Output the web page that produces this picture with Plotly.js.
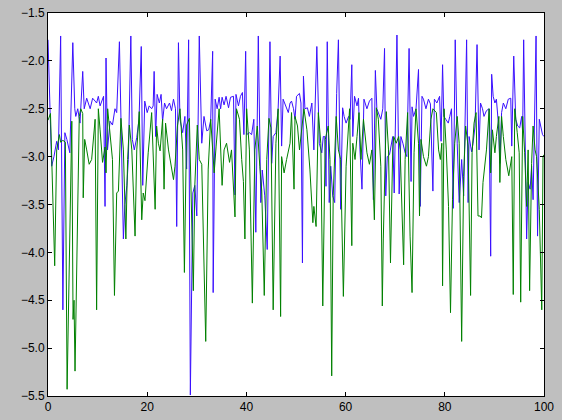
<!DOCTYPE html>
<html>
<head>
<meta charset="utf-8">
<script src="https://cdn.plot.ly/plotly-3.0.1.min.js"></script>
<style>
html,body{margin:0;padding:0;background:#bfbfbf;}
#chart{width:562px;height:420px;}
</style>
</head>
<body>
<div id="chart"></div>
<script>
// Blue series (x, y)
const blueX = [0,0.74,1.2,1.75,2.1,2.55,3.0,3.4,3.8,4.4,5.0,5.4,5.6,6.0,6.45,7.0,7.3,7.8,8.5,9.0,9.5,9.8,10.15,10.5,11.2,11.5,11.7,12.0,12.5,13.0,13.5,13.85,14.4,14.85,15.2,15.5,15.9,16.2,16.7,17.0,17.4,17.9,18.35,18.8,19.1,19.5,20.0,20.4,20.9,21.2,21.4,21.7,22.0,22.45,22.8,23.1,23.5,23.9,24.5,24.9,25.3,25.7,25.95,26.3,26.6,27.15,27.6,27.95,28.35,28.7,29.2,29.6,30.0,30.5,31.0,31.45,32.0,32.4,32.8,33.2,33.3,33.7,34.1,34.5,34.8,35.1,35.5,35.9,36.4,36.8,37.4,37.7,37.9,38.4,38.8,39.2,39.5,39.85,40.05,40.6,41.05,41.5,41.9,42.4,42.9,43.2,43.7,44.2,44.75,45.1,45.4,45.95,46.4,46.8,47.1,47.4,48.0,48.45,48.8,49.1,49.5,49.8,50.1,50.7,51.0,51.3,51.5,51.8,52.3,52.7,53.2,53.6,54.2,54.7,55.2,55.5,55.8,56.05,56.3,56.7,57.0,57.4,57.8,58.2,58.55,59.0,59.4,59.7,60.1,60.6,60.9,61.25,61.45,61.8,62.3,62.6,62.9,63.3,63.7,64.3,64.8,65.3,65.6,66.0,66.3,66.8,67.1,67.5,67.85,68.1,68.4,68.85,69.3,69.5,69.8,70.0,70.35,70.8,71.15,71.55,72.0,72.35,72.8,73.2,73.4,73.7,74.2,74.7,75.05,75.4,75.7,76.2,76.7,77.1,77.6,77.9,78.4,78.95,79.25,79.55,79.8,80.2,80.7,81.0,81.35,81.7,82.1,82.5,82.9,83.4,83.8,84.4,84.7,84.9,85.4,85.7,86.1,86.5,86.9,87.2,87.6,87.9,88.4,88.9,89.25,89.45,89.75,90.1,90.4,90.8,91.1,91.45,91.8,92.3,92.8,93.3,93.5,93.9,94.3,94.7,95.1,95.5,95.7,95.9,96.2,96.5,96.8,97.2,97.5,97.8,98.4,98.7,99.05,99.4,99.7,100];
const blueY = [-1.78,-3.10,-3.0,-2.84,-2.93,-1.74,-4.6,-2.75,-2.82,-2.96,-1.81,-2.5,-2.58,-2.5,-2.65,-2.11,-2.5,-2.39,-2.5,-2.39,-2.42,-2.44,-2.37,-2.47,-2.37,-3.52,-1.97,-2.93,-2.63,-2.67,-2.5,-2.54,-1.8,-3.03,-3.86,-3.5,-3.3,-3.03,-1.74,-2.82,-2.93,-2.8,-2.61,-1.85,-3.3,-2.42,-2.54,-2.47,-2.5,-2.47,-2.11,-2.79,-2.35,-2.44,-2.35,-2.63,-2.44,-2.5,-2.44,-2.52,-2.4,-2.5,-3.73,-1.81,-2.61,-2.75,-2.58,-3.13,-1.78,-5.49,-3.38,-3.3,-3.62,-1.74,-2.86,-2.58,-2.73,-2.72,-2.62,-1.9,-4.42,-2.4,-2.5,-2.38,-2.5,-2.38,-2.46,-2.37,-2.49,-2.38,-2.37,-3.4,-2.35,-2.47,-2.37,-2.33,-2.77,-1.9,-2.77,-2.75,-2.77,-2.61,-3.79,-1.74,-3.48,-3.14,-3.41,-3.97,-1.8,-3.07,-2.79,-2.75,-2.5,-1.95,-2.89,-2.4,-2.47,-2.54,-2.44,-2.42,-2.5,-2.61,-2.37,-2.34,-2.44,-4.11,-2.16,-2.5,-2.49,-2.58,-2.44,-2.93,-1.85,-2.86,-2.96,-2.79,-2.79,-3.31,-1.8,-3.48,-3.1,-3.41,-3.48,-2.34,-1.78,-3.55,-2.49,-2.58,-2.65,-2.58,-2.61,-2.04,-2.79,-2.37,-2.47,-2.39,-2.93,-3.34,-2.4,-2.5,-2.42,-2.39,-3.45,-2.1,-2.5,-2.58,-2.61,-2.5,-1.87,-3.41,-3.0,-2.98,-2.82,-2.79,-3.38,-2.79,-1.73,-3.39,-2.79,-2.86,-2.96,-3.0,-1.87,-3.26,-2.48,-2.58,-2.5,-2.09,-3.52,-2.37,-2.4,-2.5,-2.4,-2.45,-3.36,-2.4,-2.44,-2.37,-2.84,-2.04,-2.58,-2.61,-2.65,-2.58,-2.5,-3.54,-1.78,-2.86,-3.48,-3.03,-3.41,-1.78,-3.48,-2.79,-2.95,-2.86,-2.68,-1.83,-2.93,-2.44,-2.5,-2.58,-2.52,-2.5,-4.04,-2.14,-2.37,-2.44,-2.4,-2.65,-3.07,-2.54,-2.44,-2.5,-2.4,-2.39,-2.89,-1.95,-2.61,-2.68,-2.7,-2.58,-2.75,-1.78,-2.93,-3.86,-3.27,-3.34,-3.1,-3.45,-1.74,-3.83,-2.61,-2.68,-2.77,-2.79];

// Green series (x, y)
const greenX = [0,0.5,1.35,1.75,2.3,2.55,3.0,3.5,3.85,4.8,5.05,5.25,5.45,6.3,6.6,7.0,7.1,7.4,7.8,8.3,8.8,9.5,9.8,10.15,10.5,11.0,11.5,11.7,12.03,12.5,13.0,13.4,13.85,14.2,14.7,15.2,15.7,16.05,16.4,16.9,17.55,17.9,18.4,18.9,19.2,19.55,20.2,20.9,21.6,21.9,22.25,22.6,23.1,23.4,23.7,24.3,24.9,25.3,25.6,26.1,26.6,27.15,27.5,27.95,28.5,28.95,29.3,29.6,30.1,30.5,31.0,31.8,32.3,32.8,33.2,33.5,33.9,34.5,35.1,35.5,36.0,36.6,37.0,37.7,38.0,38.6,39.05,39.4,39.7,40.05,40.6,41.2,41.7,42.2,42.7,43.1,43.6,44.1,44.55,44.95,45.4,45.95,46.4,46.9,47.1,47.6,48.1,48.8,49.1,49.6,49.8,50.3,50.7,51.15,51.6,52.2,52.8,53.4,53.6,54.05,54.5,55.0,55.4,55.9,56.5,56.85,57.2,57.5,58.1,58.55,59.0,59.55,60.1,60.8,61.25,61.45,61.9,62.3,62.7,63.1,63.6,64.3,64.8,65.3,65.8,66.2,66.6,67.1,67.4,67.6,68.2,68.65,69.05,69.5,69.7,70.2,70.7,71.0,71.7,72.0,72.5,73.0,73.4,73.8,74.2,74.7,74.9,75.2,75.7,76.3,76.7,77.2,77.6,78.3,78.75,79.1,79.4,79.55,79.85,80.3,80.75,81.15,81.55,82.0,82.5,82.9,83.4,83.8,84.2,84.7,85.2,85.5,85.9,86.3,86.7,87.1,87.4,87.7,88.4,88.95,89.25,89.6,90.1,90.4,90.9,91.1,91.45,91.8,92.3,92.9,93.5,93.8,94.1,94.6,95.0,95.3,95.7,96.1,96.5,96.8,97.1,97.5,97.8,98.2,98.5,99.05,99.55,99.8,100];
const greenY = [-2.62,-2.55,-4.14,-2.93,-2.77,-2.85,-2.83,-2.85,-5.43,-2.63,-4.7,-4.5,-5.24,-2.58,-2.5,-2.55,-3.43,-2.82,-2.93,-3.08,-3.03,-2.61,-4.6,-2.5,-2.72,-3.06,-2.9,-3.17,-2.5,-2.78,-3.03,-4.45,-3.38,-3.36,-2.6,-2.93,-3.86,-3.03,-2.67,-2.93,-3.83,-2.93,-2.53,-3.66,-3.38,-3.46,-2.96,-2.54,-3.55,-2.68,-2.86,-2.94,-2.61,-3.34,-2.65,-2.93,-3.13,-3.24,-3.1,-2.68,-2.5,-2.93,-4.21,-2.67,-2.6,-3.62,-4.4,-3.3,-2.67,-3.03,-3.08,-4.93,-3.13,-2.61,-2.93,-3.17,-2.89,-2.5,-3.3,-2.93,-2.86,-3.06,-2.93,-3.63,-2.5,-2.61,-3.03,-3.26,-3.86,-2.5,-2.93,-4.53,-2.93,-2.68,-3.1,-3.36,-4.45,-3.03,-2.6,-2.7,-4.6,-2.86,-2.5,-4.67,-3.0,-3.17,-3.03,-2.86,-2.54,-3.34,-2.58,-2.68,-2.93,-2.72,-2.5,-2.72,-3.13,-3.69,-3.52,-3.73,-2.54,-2.86,-4.56,-2.82,-2.68,-3.03,-5.29,-3.41,-2.58,-2.93,-3.03,-4.46,-3.1,-2.5,-3.93,-2.86,-3.03,-2.79,-2.54,-3.03,-2.61,-2.96,-3.08,-2.93,-3.66,-2.49,-2.61,-3.1,-4.56,-3.86,-2.53,-2.93,-4.11,-2.93,-2.79,-2.86,-2.79,-2.93,-4.13,-3.03,-2.54,-3.83,-4.42,-2.96,-2.5,-2.86,-3.62,-2.82,-3.0,-3.1,-3.0,-2.61,-2.5,-2.54,-2.93,-3.03,-2.86,-4.35,-2.5,-2.93,-3.52,-4.63,-3.45,-2.86,-2.58,-2.86,-4.93,-3.21,-2.68,-2.89,-4.45,-2.96,-2.65,-2.54,-3.62,-3.62,-3.64,-3.27,-2.93,-2.5,-3.17,-2.72,-2.96,-2.79,-2.58,-3.27,-2.58,-2.79,-3.03,-3.2,-3.0,-4.44,-2.5,-2.75,-2.96,-4.52,-2.58,-2.96,-3.52,-2.93,-4.4,-3.07,-2.68,-2.93,-3.0,-3.55,-4.6,-3.0,-2.98];

// Axis ticks
const xTicks = [0,20,40,60,80,100];
const yTicks = [-5.5,-5.0,-4.5,-4.0,-3.5,-3.0,-2.5,-2.0,-1.5];

const traces = [
  {x: blueX, y: blueY, type: 'scatter', mode: 'lines', line: {color: '#3a10ff', width: 1}},
  {x: greenX, y: greenY, type: 'scatter', mode: 'lines', line: {color: '#008000', width: 1}}
];

const axisCommon = {
  showgrid: false, zeroline: false, showline: true, linecolor: '#000', linewidth: 1,
  mirror: 'ticks', ticks: 'inside', ticklen: 4, tickcolor: '#000', tickwidth: 1,
  tickfont: {family: 'Liberation Sans, Arial, sans-serif', size: 12, color: '#000'}
};

const layout = {
  width: 562, height: 420,
  paper_bgcolor: '#bfbfbf', plot_bgcolor: '#ffffff',
  margin: {l: 48, r: 18, t: 13, b: 24},
  showlegend: false, hovermode: false,
  xaxis: Object.assign({}, axisCommon, {range: [0, 100], tickvals: xTicks, ticktext: xTicks.map(String)}),
  yaxis: Object.assign({}, axisCommon, {range: [-5.5, -1.5], tickvals: yTicks, tickformat: '.1f'})
};

Plotly.newPlot('chart', traces, layout, {displayModeBar: false, staticPlot: true});
</script>
</body>
</html>
